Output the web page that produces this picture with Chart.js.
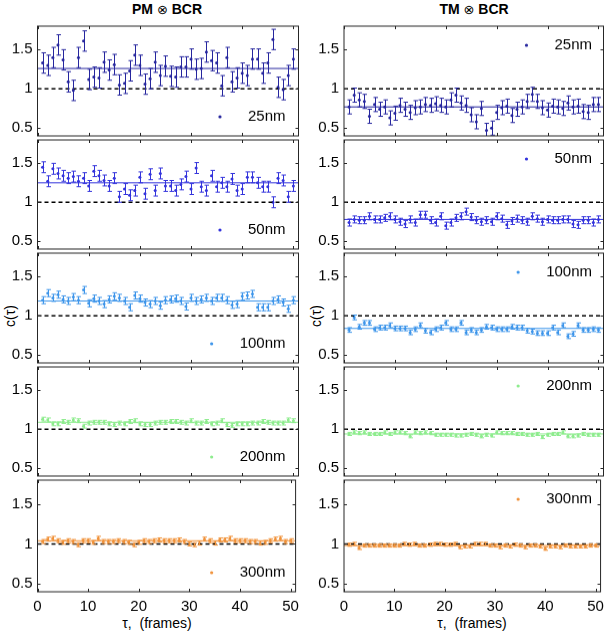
<!DOCTYPE html>
<html>
<head>
<meta charset="utf-8">
<script src="https://cdn.jsdelivr.net/npm/chart.js@4.4.0/dist/chart.umd.min.js"></script>
<style>
body { margin: 0; background: #fff; width: 610px; height: 635px; position: relative; overflow: hidden;
       font-family: "Liberation Sans", Arial, sans-serif; }
canvas { position: absolute; }
.lbl { position: absolute; color: #000; font-size: 14px; white-space: nowrap; }
.ttl { font-weight: bold; font-size: 14px; transform: translateX(-50%); }
.ttl span { font-weight: normal; font-family: "DejaVu Sans", sans-serif; font-size: 13px; }
.ylab { transform: translate(-50%, -50%) rotate(-90deg); }
</style>
</head>
<body>
<div class="lbl ttl" style="left:167px; top:1px;">PM <span>&#8855;</span> BCR</div>
<div class="lbl ttl" style="left:474px; top:1px;">TM <span>&#8855;</span> BCR</div>
<div class="lbl ylab" style="left:10px; top:316px;">c(&#964;)</div>
<div class="lbl ylab" style="left:316px; top:316px;">c(&#964;)</div>
<div class="lbl" style="left:157px; top:615px; transform:translateX(-50%);">&#964;,&nbsp; (frames)</div>
<div class="lbl" style="left:472px; top:615px; transform:translateX(-50%);">&#964;,&nbsp; (frames)</div>

<script>
// lag times (frames)
var taus = [1,2,3,4,5,6,7,8,9,10,11,12,13,14,15,16,17,18,19,20,21,22,23,24,25,
            26,27,28,29,30,31,32,33,34,35,36,37,38,39,40,41,42,43,44,45,46,47,48,49,50];
var xTicks = [0, 10, 20, 30, 40, 50];
var yTicks = [0.5, 1, 1.5];
var sizes = ['25nm', '50nm', '100nm', '200nm', '300nm'];
var colors = ['#26269e', '#3434dc', '#3d95ea', '#8eec8e', '#f0923a'];

// PM (x) BCR
var pm25 = [1.33,1.30,1.40,1.56,1.37,1.09,0.98,1.40,1.61,1.12,1.15,1.14,1.34,1.24,1.31,1.05,1.07,1.23,1.43,1.30,
            1.06,1.13,1.34,1.17,1.29,1.16,1.15,1.28,1.28,1.38,1.25,1.26,1.47,1.36,1.33,1.04,1.40,1.09,1.14,1.20,
            1.17,1.38,1.38,1.20,1.33,1.63,1.02,0.99,1.17,1.38];
var pm50 = [1.45,1.27,1.43,1.37,1.34,1.31,1.33,1.27,1.31,1.21,1.40,1.34,1.28,1.21,1.31,1.07,1.17,1.09,1.15,1.32,
            1.11,1.36,1.15,1.37,1.21,1.21,1.15,1.23,1.33,1.17,1.44,1.20,1.15,1.34,1.20,1.25,1.20,1.30,1.15,1.17,
            1.32,1.32,1.25,1.20,1.20,1.00,1.31,1.28,1.07,1.21];
var pm100 = [1.20,1.29,1.23,1.27,1.21,1.19,1.24,1.20,1.33,1.16,1.22,1.19,1.15,1.21,1.25,1.23,1.19,1.11,1.26,1.22,
             1.17,1.15,1.19,1.13,1.20,1.21,1.22,1.19,1.12,1.23,1.19,1.21,1.23,1.19,1.23,1.23,1.20,1.14,1.15,1.25,
             1.26,1.28,1.11,1.11,1.11,1.19,1.21,1.17,1.09,1.20];
var pm200 = [1.13,1.12,1.07,1.07,1.10,1.09,1.12,1.11,1.04,1.08,1.09,1.09,1.09,1.07,1.06,1.08,1.07,1.10,1.11,1.07,
             1.06,1.06,1.08,1.09,1.09,1.10,1.10,1.09,1.08,1.11,1.08,1.08,1.10,1.07,1.08,1.11,1.06,1.05,1.07,1.07,
             1.07,1.08,1.08,1.10,1.09,1.08,1.08,1.08,1.12,1.11];
var pm300 = [1.03,1.06,1.07,1.04,1.02,1.04,1.03,0.99,1.04,1.04,1.02,1.07,1.03,1.03,1.03,1.04,1.03,1.02,0.99,1.02,
             1.04,1.03,1.04,1.05,1.04,1.04,1.04,1.05,1.03,1.00,0.99,1.01,1.06,1.04,1.01,1.05,1.05,1.07,1.04,1.04,
             1.04,1.03,1.03,1.01,1.02,1.04,1.06,1.07,1.03,1.04];
var pmErr = [0.13, 0.07, 0.045, 0.025, 0.025];
var pmMean = [1.26, 1.25, 1.19, 1.09, 1.04];

// TM (x) BCR
var tm25 = [0.77,0.92,0.86,0.84,0.65,0.80,0.74,0.77,0.63,0.69,0.79,0.74,0.70,0.76,0.77,0.80,0.79,0.81,0.79,0.77,
            0.86,0.92,0.82,0.79,0.67,0.58,0.75,0.47,0.50,0.70,0.76,0.78,0.66,0.74,0.77,0.84,0.93,0.84,0.76,0.73,
            0.78,0.77,0.75,0.82,0.77,0.78,0.71,0.70,0.80,0.80];
var tm50 = [0.74,0.78,0.77,0.77,0.82,0.78,0.78,0.80,0.82,0.78,0.75,0.72,0.78,0.74,0.84,0.84,0.77,0.74,0.82,0.70,
            0.74,0.80,0.82,0.88,0.81,0.77,0.75,0.77,0.75,0.82,0.79,0.71,0.76,0.79,0.77,0.75,0.82,0.79,0.75,0.78,
            0.77,0.77,0.78,0.78,0.72,0.71,0.77,0.77,0.74,0.78];
var tm100 = [0.82,0.98,0.86,0.91,0.91,0.83,0.85,0.85,0.88,0.84,0.84,0.84,0.79,0.83,0.88,0.81,0.79,0.83,0.85,0.91,
             0.83,0.83,0.91,0.79,0.82,0.79,0.82,0.86,0.85,0.83,0.83,0.83,0.86,0.85,0.85,0.81,0.80,0.78,0.78,0.78,
             0.85,0.79,0.88,0.74,0.77,0.88,0.82,0.82,0.83,0.82];
var tm200 = [0.94,0.96,0.95,0.96,0.94,0.94,0.94,0.96,0.94,0.96,0.96,0.95,0.91,0.96,0.95,0.96,0.95,0.93,0.93,0.93,
             0.93,0.92,0.92,0.93,0.94,0.93,0.91,0.93,0.92,0.96,0.95,0.95,0.95,0.94,0.94,0.93,0.93,0.94,0.90,0.93,
             0.94,0.94,0.96,0.91,0.91,0.92,0.94,0.93,0.93,0.93];
var tm300 = [0.99,1.00,0.95,0.98,0.98,0.98,0.98,0.98,0.98,0.98,0.98,1.00,0.99,1.00,0.98,0.98,0.99,1.00,1.00,0.99,
             0.99,1.00,0.96,0.97,0.97,1.00,1.00,1.00,0.98,0.98,0.96,0.98,0.97,0.99,0.98,0.96,0.98,0.98,0.97,0.94,
             0.97,0.97,0.96,0.98,0.97,0.97,0.97,0.97,0.98,0.98];
var tmErr = [0.09, 0.045, 0.03, 0.02, 0.02];
var tmMean = [0.77, 0.78, 0.84, 0.94, 0.98];

var pmSeries = [pm25, pm50, pm100, pm200, pm300];
var tmSeries = [tm25, tm50, tm100, tm200, tm300];

// layout of the 2x5 grid
var panelTops = [24, 137.5, 251, 364.5, 478];
var panelH = 113.5;
var cols = [
    { left: 0, width: 305, plotLeft: 37.5, plotRight: 298.5, legendTop: false },
    { left: 305, width: 305, plotLeft: 344, plotRight: 603.5, legendTop: true }
];
var FONT = '"Liberation Sans", Arial, sans-serif';

function decor(values, err, color, label, legendTop) {
    return {
        id: 'decor',
        afterDatasetsDraw: function(chart) {
            var ctx = chart.ctx, xs = chart.scales.x, ys = chart.scales.y, a = chart.chartArea;
            ctx.save();
            ctx.beginPath();
            ctx.rect(a.left, a.top, a.right - a.left, a.bottom - a.top);
            ctx.clip();
            ctx.strokeStyle = color;
            ctx.lineWidth = 1;
            ctx.beginPath();
            for (var i = 0; i < values.length; i++) {
                var px = Math.round(xs.getPixelForValue(taus[i])) + 0.5;
                var top = ys.getPixelForValue(values[i] + err);
                var bot = ys.getPixelForValue(values[i] - err);
                ctx.moveTo(px, top); ctx.lineTo(px, bot);
                ctx.moveTo(px - 2, top); ctx.lineTo(px + 2.5, top);
                ctx.moveTo(px - 2, bot); ctx.lineTo(px + 2.5, bot);
            }
            ctx.stroke();
            ctx.restore();
        },
        afterDraw: function(chart) {
            var ctx = chart.ctx, xs = chart.scales.x, ys = chart.scales.y, a = chart.chartArea;
            ctx.save();
            ctx.strokeStyle = '#262626';
            ctx.lineWidth = 1;
            ctx.strokeRect(a.left, a.top, a.right - a.left, a.bottom - a.top);
            ctx.beginPath();
            xTicks.forEach(function(t) {
                var px = Math.round(xs.getPixelForValue(t)) + 0.5;
                ctx.moveTo(px, a.bottom); ctx.lineTo(px, a.bottom - 3);
                ctx.moveTo(px, a.top); ctx.lineTo(px, a.top + 3);
            });
            yTicks.forEach(function(t) {
                var py = Math.round(ys.getPixelForValue(t)) + 0.5;
                ctx.moveTo(a.left, py); ctx.lineTo(a.left + 3, py);
                ctx.moveTo(a.right, py); ctx.lineTo(a.right - 3, py);
            });
            ctx.stroke();
            // legend: marker and size label
            var ly = legendTop ? a.top + 19 : a.bottom - 19;
            var tx = a.left + 248;
            ctx.font = '15px ' + FONT;
            ctx.fillStyle = '#000';
            ctx.textAlign = 'right';
            ctx.textBaseline = 'middle';
            ctx.fillText(label, tx, ly);
            var w = ctx.measureText(label).width;
            ctx.fillStyle = color;
            ctx.beginPath();
            ctx.arc(tx - w - 28, ly, 1.6, 0, Math.PI * 2);
            ctx.fill();
            ctx.restore();
        }
    };
}

function makePanel(col, row, values, err, mean, color, label) {
    var c = cols[col];
    var isBottom = row === 4;
    var padT = 12, padB = isBottom ? 40 : 12;
    var cv = document.createElement('canvas');
    var h = panelH + padT + padB;
    cv.width = c.width; cv.height = h;
    cv.style.left = c.left + 'px';
    cv.style.top = (panelTops[row] - padT) + 'px';
    cv.style.width = c.width + 'px';
    cv.style.height = h + 'px';
    document.body.appendChild(cv);

    var pts = values.map(function(v, i) { return { x: taus[i], y: v }; });

    new Chart(cv.getContext('2d'), {
        type: 'scatter',
        data: {
            datasets: [
                { data: [{ x: 0, y: mean }, { x: 51, y: mean }], showLine: true, borderColor: color,
                  borderWidth: 1, pointRadius: 0, order: 3 },
                { data: pts, backgroundColor: color, borderColor: color, pointRadius: 1.5,
                  pointBorderWidth: 0, order: 2 },
                { data: [{ x: 0, y: 1 }, { x: 51, y: 1 }], showLine: true, borderColor: '#000',
                  borderWidth: 1.5, borderDash: [4, 3], pointRadius: 0, order: 1 }
            ]
        },
        options: {
            responsive: false,
            animation: false,
            devicePixelRatio: 1,
            layout: { padding: { top: padT, bottom: isBottom ? padB - 24 : padB, left: 0,
                                 right: c.left + c.width - c.plotRight } },
            plugins: { legend: { display: false }, tooltip: { enabled: false } },
            scales: {
                x: {
                    type: 'linear', min: 0, max: 51,
                    afterBuildTicks: function(s) { s.ticks = xTicks.map(function(v) { return { value: v }; }); },
                    afterFit: function(s) { s.height = isBottom ? 24 : 0; },
                    grid: { display: false, drawTicks: false },
                    border: { display: false },
                    ticks: { display: isBottom, autoSkip: false, maxRotation: 0, padding: 6,
                             color: '#000', font: { size: 15, family: FONT } }
                },
                y: {
                    min: 0.4, max: 1.8,
                    afterBuildTicks: function(s) { s.ticks = yTicks.map(function(v) { return { value: v }; }); },
                    afterFit: function(s) { s.width = c.plotLeft - c.left; },
                    grid: { display: false, drawTicks: false },
                    border: { display: false },
                    ticks: { padding: 5, color: '#000', font: { size: 15, family: FONT },
                             callback: function(v) { return String(v); } }
                }
            }
        },
        plugins: [decor(values, err, color, label, c.legendTop)]
    });
}

for (var r = 0; r < 5; r++) {
    makePanel(0, r, pmSeries[r], pmErr[r], pmMean[r], colors[r], sizes[r]);
    makePanel(1, r, tmSeries[r], tmErr[r], tmMean[r], colors[r], sizes[r]);
}
</script>
</body>
</html>
